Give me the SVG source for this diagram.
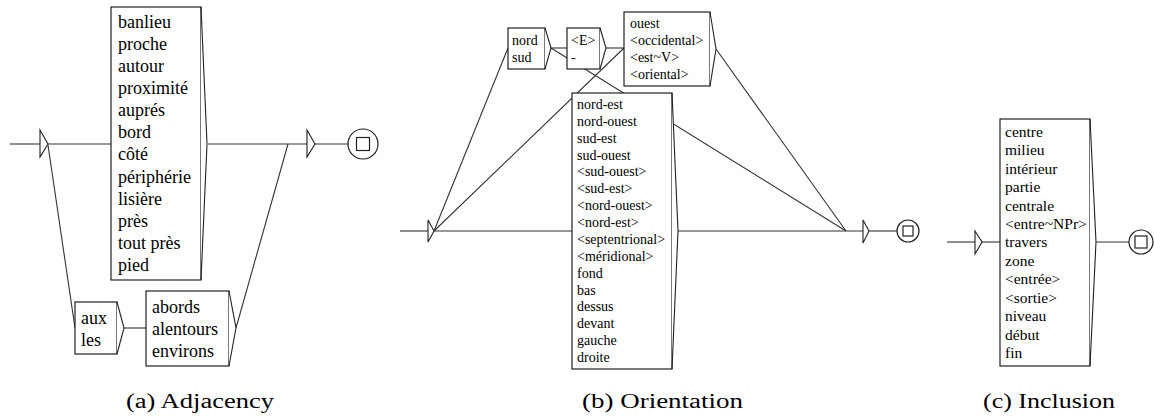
<svg xmlns="http://www.w3.org/2000/svg" width="1154" height="416" viewBox="0 0 1154 416">
<style>
.bx{fill:#fff;stroke:#222;stroke-width:1.2}
.tri{fill:#fff;stroke:#222;stroke-width:1.1}
.ln{stroke:#333;stroke-width:1.1;fill:none}
text{font-family:"Liberation Serif","Times New Roman","DejaVu Serif",serif;fill:#000}
.ta{font-size:18px}
.tb{font-size:14px}
.tc{font-size:15.5px}
.cap{font-size:20px}
</style>

<!-- Panel (a) -->
<g id="a-connectors">
<line class="ln" x1="10" y1="144" x2="40" y2="144"/>
<line class="ln" x1="48" y1="144" x2="111" y2="144"/>
<line class="ln" x1="48" y1="145" x2="75" y2="328"/>
<line class="ln" x1="124" y1="328" x2="146" y2="328"/>
<line class="ln" x1="236" y1="328" x2="288" y2="144"/>
<line class="ln" x1="208" y1="144" x2="307" y2="144"/>
<line class="ln" x1="315" y1="144" x2="348" y2="144"/>
</g>
<g id="a-init"><polygon class="tri" points="40,130 48,144 40,157"/></g>
<g id="a-main">
<rect class="bx" x="111" y="7" width="90" height="273"/>
<polyline class="tri" points="201,7 207,144 201,280"/>
<text class="ta" x="118" y="28">banlieu</text>
<text class="ta" x="118" y="50">proche</text>
<text class="ta" x="118" y="72">autour</text>
<text class="ta" x="118" y="94">proximité</text>
<text class="ta" x="118" y="116">auprés</text>
<text class="ta" x="118" y="138">bord</text>
<text class="ta" x="118" y="160">côté</text>
<text class="ta" x="118" y="183">périphérie</text>
<text class="ta" x="118" y="205">lisière</text>
<text class="ta" x="118" y="227">près</text>
<text class="ta" x="118" y="249">tout près</text>
<text class="ta" x="118" y="271">pied</text>
</g>
<g id="a-aux">
<rect class="bx" x="75" y="302" width="42" height="52"/>
<polyline class="tri" points="117,302 124,328 117,354"/>
<text class="ta" x="81" y="324">aux</text>
<text class="ta" x="81" y="346">les</text>
</g>
<g id="a-abords">
<rect class="bx" x="146" y="291" width="83" height="75"/>
<polyline class="tri" points="229,291 236,328 229,366"/>
<text class="ta" x="152" y="313">abords</text>
<text class="ta" x="152" y="335">alentours</text>
<text class="ta" x="152" y="357">environs</text>
</g>
<g id="a-final">
<polygon class="tri" points="307,130 315,144 307,157"/>
<circle cx="363" cy="144" r="15" fill="#fff" stroke="#222" stroke-width="1.2"/>
<rect x="356.5" y="137.5" width="13" height="13" fill="none" stroke="#222" stroke-width="1.2"/>
</g>
<text class="cap" x="126" y="408" textLength="148" lengthAdjust="spacingAndGlyphs">(a) Adjacency</text>

<!-- Panel (b) -->
<g id="b-connectors">
<line class="ln" x1="400" y1="231" x2="428" y2="231"/>
<line class="ln" x1="434" y1="231" x2="572" y2="231"/>
<line class="ln" x1="434" y1="231" x2="508" y2="48"/>
<line class="ln" x1="434" y1="231" x2="624" y2="48"/>
<line class="ln" x1="551" y1="48" x2="567" y2="48"/>
<line class="ln" x1="551" y1="48" x2="846" y2="231"/>
<line class="ln" x1="606" y1="48" x2="624" y2="48"/>
<line class="ln" x1="716" y1="49" x2="846" y2="231"/>
<line class="ln" x1="678" y1="231" x2="863" y2="231"/>
<line class="ln" x1="869" y1="231" x2="897" y2="231"/>
</g>
<g id="b-init"><polygon class="tri" points="428,220 434,231 428,242"/></g>
<g id="b-nordsud">
<rect class="bx" x="508" y="28" width="37" height="41"/>
<polyline class="tri" points="545,28 551,48 545,69"/>
<text class="tb" x="512" y="45">nord</text>
<text class="tb" x="512" y="62">sud</text>
</g>
<g id="b-E">
<rect class="bx" x="567" y="28" width="33" height="41"/>
<polyline class="tri" points="600,28 606,48 600,69"/>
<text class="tb" x="571" y="45">&lt;E&gt;</text>
<text class="tb" x="571" y="62">-</text>
</g>
<g id="b-ouest">
<rect class="bx" x="624" y="12" width="86" height="74"/>
<polyline class="tri" points="710,12 716,49 710,86"/>
<text class="tb" x="630" y="28">ouest</text>
<text class="tb" x="630" y="45">&lt;occidental&gt;</text>
<text class="tb" x="630" y="62">&lt;est~V&gt;</text>
<text class="tb" x="630" y="79">&lt;oriental&gt;</text>
</g>
<g id="b-main">
<rect class="bx" x="572" y="93" width="100" height="276"/>
<polyline class="tri" points="672,93 678,231 672,369"/>
<text class="tb" x="577" y="109">nord-est</text>
<text class="tb" x="577" y="126">nord-ouest</text>
<text class="tb" x="577" y="143">sud-est</text>
<text class="tb" x="577" y="160">sud-ouest</text>
<text class="tb" x="577" y="176">&lt;sud-ouest&gt;</text>
<text class="tb" x="577" y="193">&lt;sud-est&gt;</text>
<text class="tb" x="577" y="210">&lt;nord-ouest&gt;</text>
<text class="tb" x="577" y="227">&lt;nord-est&gt;</text>
<text class="tb" x="577" y="244">&lt;septentrional&gt;</text>
<text class="tb" x="577" y="261">&lt;méridional&gt;</text>
<text class="tb" x="577" y="278">fond</text>
<text class="tb" x="577" y="295">bas</text>
<text class="tb" x="577" y="311">dessus</text>
<text class="tb" x="577" y="328">devant</text>
<text class="tb" x="577" y="345">gauche</text>
<text class="tb" x="577" y="362">droite</text>
</g>
<g id="b-final">
<polygon class="tri" points="863,220 869,231 863,243"/>
<circle cx="908" cy="231" r="11" fill="#fff" stroke="#222" stroke-width="1.2"/>
<rect x="903" y="226" width="10" height="10" fill="none" stroke="#222" stroke-width="1.2"/>
</g>
<text class="cap" x="582" y="408" textLength="161" lengthAdjust="spacingAndGlyphs">(b) Orientation</text>

<!-- Panel (c) -->
<g id="c-connectors">
<line class="ln" x1="947" y1="242" x2="975" y2="242"/>
<line class="ln" x1="982" y1="242" x2="1000" y2="242"/>
<line class="ln" x1="1096" y1="242" x2="1129" y2="242"/>
</g>
<g id="c-init"><polygon class="tri" points="975,231 982,242 975,254"/></g>
<g id="c-main">
<rect class="bx" x="1000" y="119" width="90" height="247"/>
<polyline class="tri" points="1090,119 1096,242 1090,366"/>
<text class="tc" x="1005" y="137">centre</text>
<text class="tc" x="1005" y="155">milieu</text>
<text class="tc" x="1005" y="174">intérieur</text>
<text class="tc" x="1005" y="192">partie</text>
<text class="tc" x="1005" y="211">centrale</text>
<text class="tc" x="1005" y="229">&lt;entre~NPr&gt;</text>
<text class="tc" x="1005" y="247">travers</text>
<text class="tc" x="1005" y="266">zone</text>
<text class="tc" x="1005" y="284">&lt;entrée&gt;</text>
<text class="tc" x="1005" y="303">&lt;sortie&gt;</text>
<text class="tc" x="1005" y="321">niveau</text>
<text class="tc" x="1005" y="340">début</text>
<text class="tc" x="1005" y="358">fin</text>
</g>
<g id="c-final">
<circle cx="1141" cy="242" r="12" fill="#fff" stroke="#222" stroke-width="1.2"/>
<rect x="1135" y="236" width="12" height="12" fill="none" stroke="#222" stroke-width="1.2"/>
</g>
<text class="cap" x="983" y="408" textLength="132" lengthAdjust="spacingAndGlyphs">(c) Inclusion</text>
</svg>
